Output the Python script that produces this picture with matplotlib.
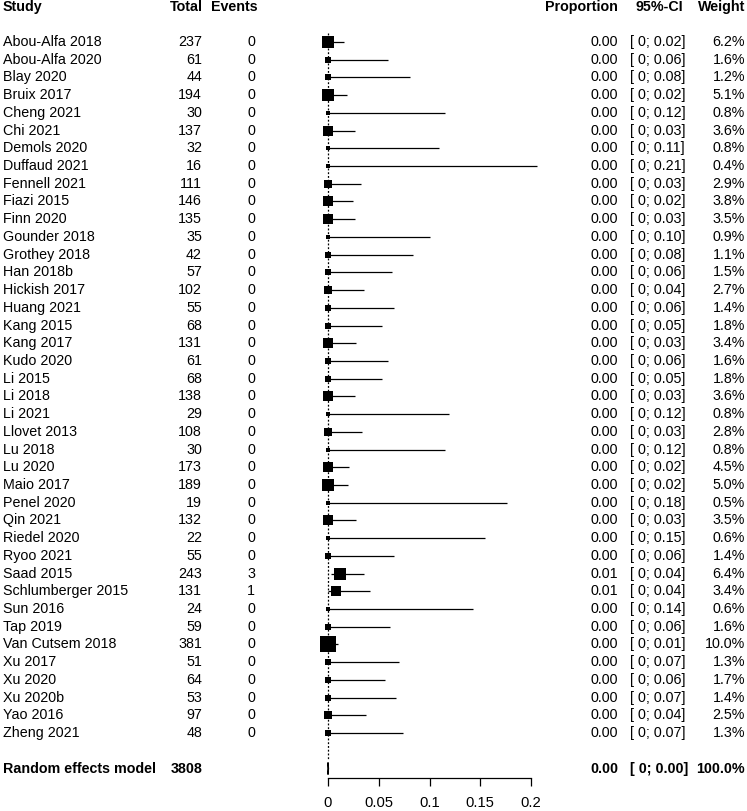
import numpy as np
import matplotlib
matplotlib.use("Agg")
import matplotlib.pyplot as plt
from matplotlib.transforms import blended_transform_factory

plt.rcParams['font.family'] = ['Liberation Sans', 'DejaVu Sans']

# Datos del forest plot
estudios = ['Abou-Alfa 2018', 'Abou-Alfa 2020', 'Blay 2020', 'Bruix 2017', 'Cheng 2021',
            'Chi 2021', 'Demols 2020', 'Duffaud 2021', 'Fennell 2021', 'Fiazi 2015',
            'Finn 2020', 'Gounder 2018', 'Grothey 2018', 'Han 2018b', 'Hickish 2017',
            'Huang 2021', 'Kang 2015', 'Kang 2017', 'Kudo 2020', 'Li 2015',
            'Li 2018', 'Li 2021', 'Llovet 2013', 'Lu 2018', 'Lu 2020',
            'Maio 2017', 'Penel 2020', 'Qin 2021', 'Riedel 2020', 'Ryoo 2021',
            'Saad 2015', 'Schlumberger 2015', 'Sun 2016', 'Tap 2019', 'Van Cutsem 2018',
            'Xu 2017', 'Xu 2020', 'Xu 2020b', 'Yao 2016', 'Zheng 2021']
totales = [237, 61, 44, 194, 30, 137, 32, 16, 111, 146,
           135, 35, 42, 57, 102, 55, 68, 131, 61, 68,
           138, 29, 108, 30, 173, 189, 19, 132, 22, 55,
           243, 131, 24, 59, 381, 51, 64, 53, 97, 48]
eventos = [0] * 30 + [3, 1] + [0] * 8
proporcion = [0.0] * 30 + [0.0123, 0.0076] + [0.0] * 8
inferior = [0.0] * 30 + [0.0026, 0.0002] + [0.0] * 8
superior = [0.0154, 0.0587, 0.0804, 0.0188, 0.1157, 0.0266, 0.1089, 0.2059, 0.0327, 0.0250,
            0.0270, 0.1000, 0.0841, 0.0627, 0.0355, 0.0649, 0.0528, 0.0278, 0.0587, 0.0528,
            0.0264, 0.1194, 0.0336, 0.1157, 0.0211, 0.0193, 0.1765, 0.0276, 0.1544, 0.0649,
            0.0357, 0.0418, 0.1425, 0.0606, 0.0096, 0.0698, 0.0560, 0.0672, 0.0373, 0.0740]
txt_prop = ['0.00'] * 30 + ['0.01', '0.01'] + ['0.00'] * 8
txt_sup = ['0.02', '0.06', '0.08', '0.02', '0.12', '0.03', '0.11', '0.21', '0.03', '0.02',
           '0.03', '0.10', '0.08', '0.06', '0.04', '0.06', '0.05', '0.03', '0.06', '0.05',
           '0.03', '0.12', '0.03', '0.12', '0.02', '0.02', '0.18', '0.03', '0.15', '0.06',
           '0.04', '0.04', '0.14', '0.06', '0.01', '0.07', '0.06', '0.07', '0.04', '0.07']
pesos = [6.2, 1.6, 1.2, 5.1, 0.8, 3.6, 0.8, 0.4, 2.9, 3.8,
         3.5, 0.9, 1.1, 1.5, 2.7, 1.4, 1.8, 3.4, 1.6, 1.8,
         3.6, 0.8, 2.8, 0.8, 4.5, 5.0, 0.5, 3.5, 0.6, 1.4,
         6.4, 3.4, 0.6, 1.6, 10.0, 1.3, 1.7, 1.4, 2.5, 1.3]

# Modelo de efectos aleatorios
total_re = 3808
prop_re, inf_re, sup_re = 0.0, 0.0, 0.0005
ticks_x = [0, 0.05, 0.1, 0.15, 0.2]
ticks_txt = ['0', '0.05', '0.1', '0.15', '0.2']

W, H = 747, 811
fig = plt.figure(figsize=(W / 100, H / 100), dpi=100)

# Escala: 0 -> 328 px, 0.2 -> 531 px; fila 0 -> 42 px, paso 17.72 px
px_x0, px_por_unidad = 328, 1015
fila0, paso = 42, 17.72
y_eje = 778
ax = fig.add_axes([0, (H - y_eje) / H, 1, y_eje / H])
ax.set_xlim(-px_x0 / px_por_unidad, (W - px_x0) / px_por_unidad)
ax.set_ylim((y_eje - fila0) / paso, -fila0 / paso)

n = len(estudios)
filas = np.arange(n)
fila_re = n + 1

# Intervalos y cuadrados
ax.hlines(filas, inferior, superior, color='black', lw=0.9)
max_lado = 16 * 0.72
for i in range(n):
    lado = max(max_lado * np.sqrt(pesos[i] / max(pesos)), 3.2)
    ax.plot(proporcion[i], filas[i], marker='s', ms=lado, color='black', mec='black', mew=0)

# Línea de referencia punteada
ax.vlines(prop_re, -0.5, n + 0.45, color='black', lw=0.9, linestyles=(0, (1.5, 1.5)))
# Diamante del modelo
ax.fill([inf_re, prop_re, sup_re, prop_re], [fila_re, fila_re - 0.34, fila_re, fila_re + 0.34],
        color='black', lw=0.9, ec='black')

# Eje x
for s in ['top', 'left', 'right']:
    ax.spines[s].set_visible(False)
ax.spines['bottom'].set_bounds(0, 0.2)
ax.spines['bottom'].set_linewidth(0.9)
ax.set_xticks(ticks_x)
ax.set_xticklabels(ticks_txt)
ax.tick_params(axis='x', length=6, width=0.9, pad=7, labelsize=10.6)
ax.set_yticks([])

# Columnas de texto
tr = blended_transform_factory(fig.transFigure, ax.transData)
fs = 10.25
y_cab = -fila0 / paso + 7 / paso


def col(x_px, y, s, ha, bold=False):
    ax.text(x_px / W, y, s, transform=tr, ha=ha, va='center', fontsize=fs,
            fontweight='bold' if bold else 'normal')


col(3, y_cab, 'Study', 'left', True)
col(203, y_cab, 'Total', 'right', True)
col(258, y_cab, 'Events', 'right', True)
col(618, y_cab, 'Proportion', 'right', True)
col(659, y_cab, '95%-CI', 'center', True)
col(745, y_cab, 'Weight', 'right', True)

for i in range(n):
    col(3, filas[i], estudios[i], 'left')
    col(202, filas[i], str(totales[i]), 'right')
    col(255, filas[i], str(eventos[i]), 'right')
    col(618, filas[i], txt_prop[i], 'right')
    col(630, filas[i], f'[ 0; {txt_sup[i]}]', 'left')
    col(745, filas[i], f'{pesos[i]:.1f}%', 'right')

col(3, fila_re, 'Random effects model', 'left', True)
col(203, fila_re, str(total_re), 'right', True)
col(618, fila_re, f'{prop_re:.2f}', 'right', True)
col(630, fila_re, f'[ 0; {sup_re:.2f}]', 'left', True)
col(745, fila_re, '100.0%', 'right', True)

fig.savefig('out.png', dpi=100)
